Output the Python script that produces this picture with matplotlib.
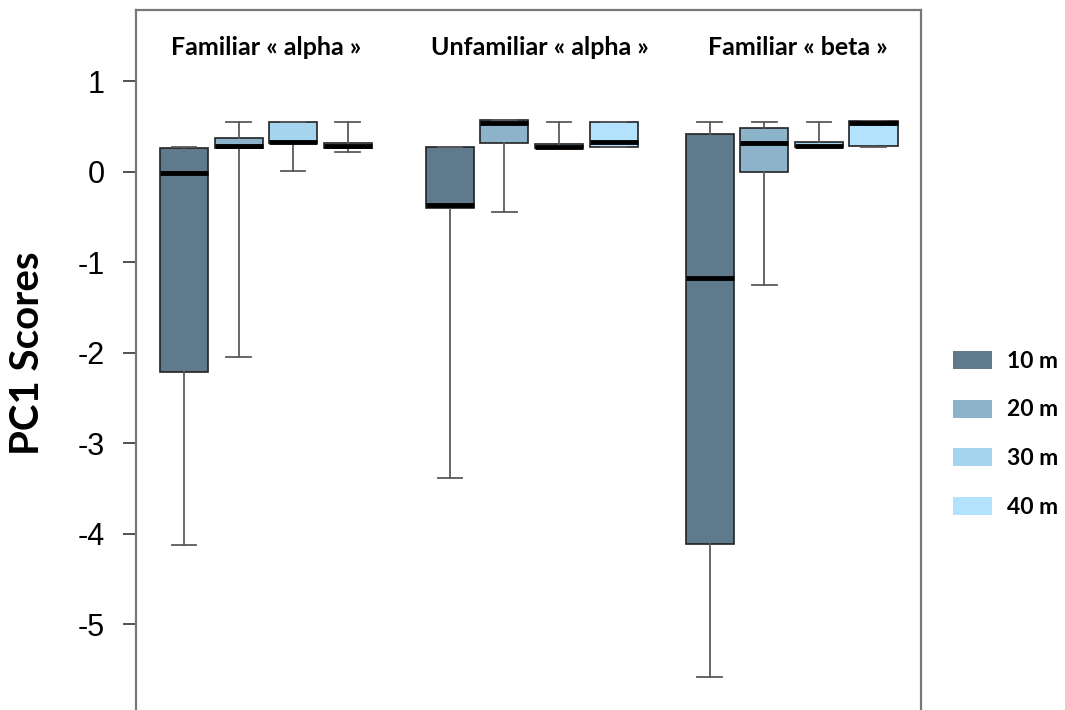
import matplotlib
matplotlib.use("Agg")
import matplotlib.pyplot as plt
from matplotlib.patches import Patch

# group / series labels
groups = ["Familiar « alpha »", "Unfamiliar « alpha »", "Familiar « beta »"]
distances = ["10 m", "20 m", "30 m", "40 m"]
colors = ["#5f7a8c", "#8db3cb", "#a5d4ee", "#b3e2fd"]

# box statistics, 4 distances per group
whislo = [-4.12, -2.05, 0.01, 0.22,
          -3.38, -0.44, 0.26, 0.27,
          -5.58, -1.25, 0.27, 0.27]
q1 = [-2.21, 0.26, 0.32, 0.26,
      -0.40, 0.32, 0.26, 0.27,
      -4.11, 0.00, 0.27, 0.29]
med = [-0.015, 0.29, 0.33, 0.29,
       -0.37, 0.545, 0.28, 0.33,
       -1.17, 0.32, 0.29, 0.545]
q3 = [0.265, 0.375, 0.55, 0.32,
      0.27, 0.57, 0.31, 0.555,
      0.415, 0.48, 0.33, 0.56]
whishi = [0.27, 0.55, 0.55, 0.55,
          0.27, 0.57, 0.55, 0.555,
          0.55, 0.55, 0.55, 0.56]

# layout
group_start = [1.0, 5.87, 10.63]
positions = [g + i for g in group_start for i in range(4)]
title_x = [2.5, 7.52, 12.25]

stats = []
for i in range(len(positions)):
    stats.append(dict(whislo=whislo[i], q1=q1[i], med=med[i], q3=q3[i],
                      whishi=whishi[i], fliers=[]))

fig = plt.figure(figsize=(10.65, 7.1), dpi=100)
# axes runs past the bottom of the figure, as in the reference
ax = fig.add_axes([136 / 1065, -0.032, (921 - 136) / 1065, 1 - 10 / 710 + 0.032])

bp = ax.bxp(stats, positions=positions, widths=0.88, patch_artist=True,
            showfliers=False, capwidths=0.45,
            boxprops=dict(edgecolor="#222222", linewidth=1.2),
            whiskerprops=dict(color="#5a5a5a", linewidth=1.3),
            capprops=dict(color="#5a5a5a", linewidth=1.3),
            medianprops=dict(color="black", linewidth=3.5, solid_capstyle="butt"))
for i, box in enumerate(bp["boxes"]):
    box.set_facecolor(colors[i % 4])

ax.set_xlim(0.121, 14.5)
ax.set_ylim(-6.2, 1.79)
ax.set_yticks([1, 0, -1, -2, -3, -4, -5])
ax.set_yticklabels(["1", "0", "-1", "-2", "-3", "-4", "-5"],
                   family="Liberation Sans", fontsize=22)
ax.set_xticks([])
ax.tick_params(axis="y", length=9.5, width=1.2, color="#333333", pad=13)
for side in ["left", "top", "right"]:
    ax.spines[side].set_color("#777777")
    ax.spines[side].set_linewidth(1.6)
ax.spines["bottom"].set_visible(False)

for x, name in zip(title_x, groups):
    ax.text(x, 1.38, name, ha="center", va="center", fontsize=18,
            fontweight="bold", family="Lato")

fig.text(28 / 1065, 1 - 353 / 710, "PC1 Scores", rotation=90, ha="center",
         va="center", fontsize=29, fontweight="bold", family="Lato")

handles = [Patch(facecolor=c, edgecolor="none") for c in colors]
fig.legend(handles, distances, loc="upper left",
           bbox_to_anchor=(953 / 1065, 1 - 351 / 710), frameon=False,
           prop=dict(family="Lato", weight="bold", size=16.5),
           handlelength=1.70, handleheight=0.83, handletextpad=0.65,
           labelspacing=1.2, borderpad=0, borderaxespad=0)

fig.savefig("out.png", dpi=100)
